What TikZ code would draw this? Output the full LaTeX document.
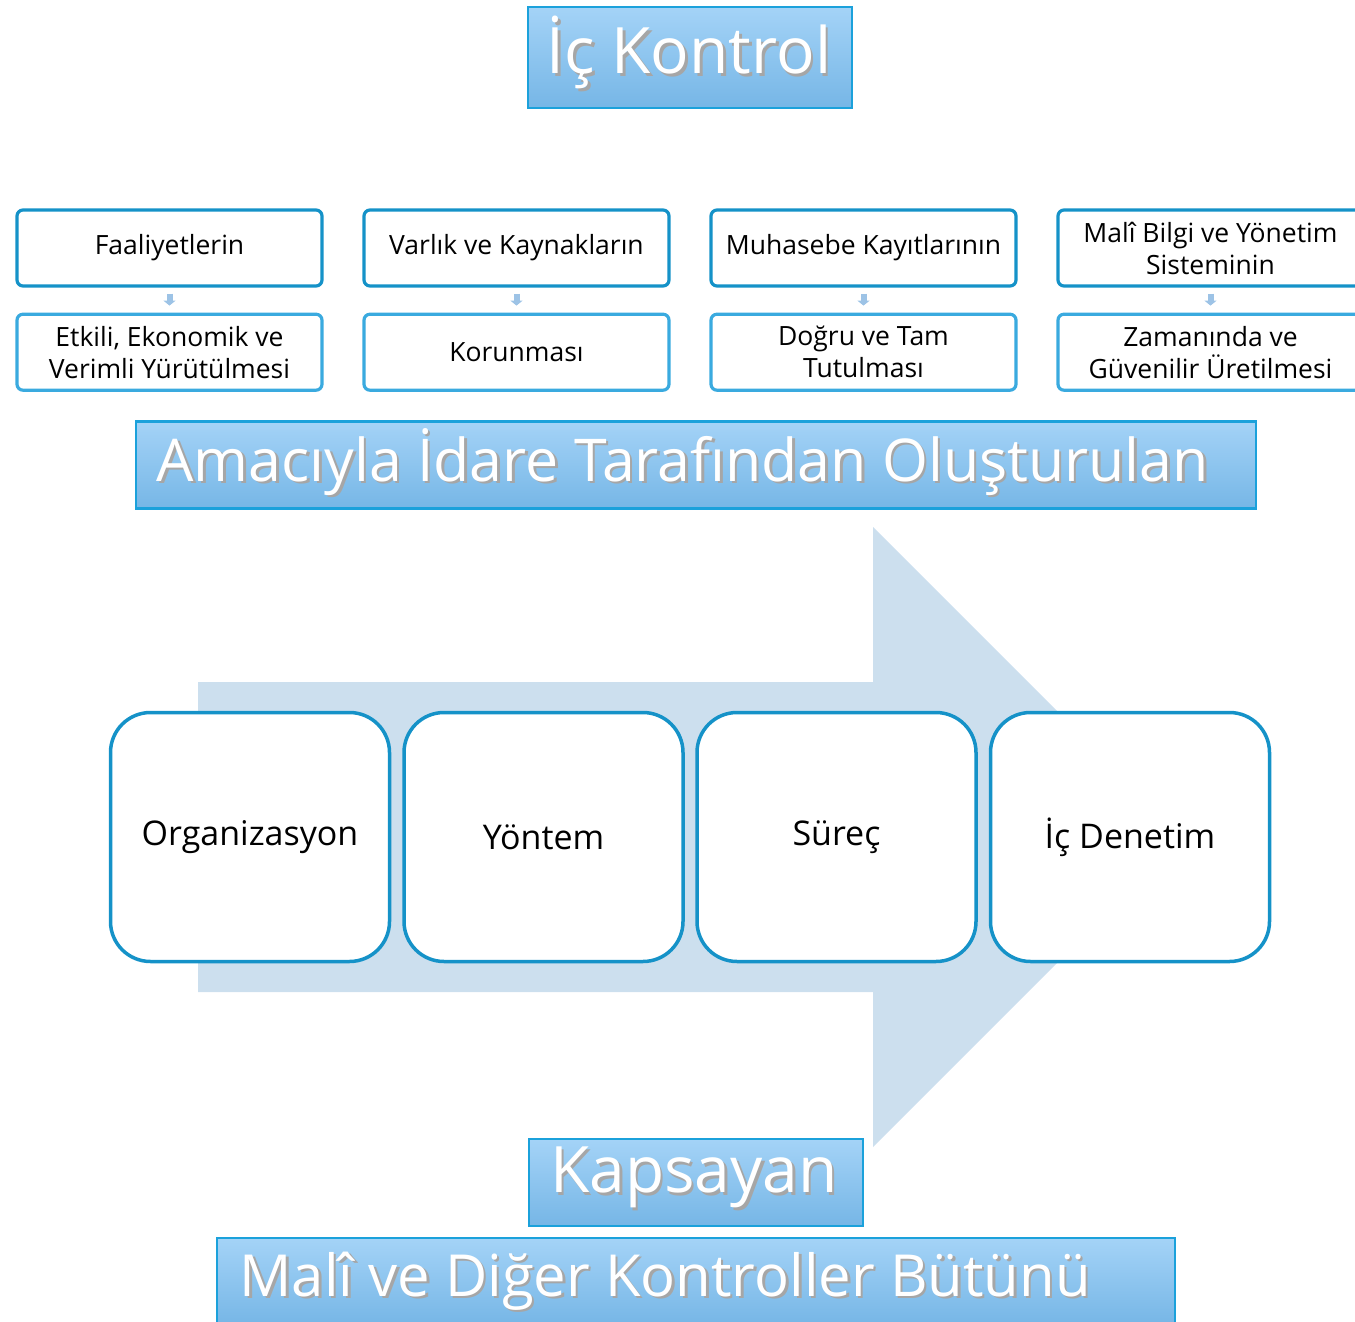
\documentclass[tikz,border=0pt]{standalone}
\usepackage{fontspec}
\setmainfont{Open Sans}
\usetikzlibrary{positioning,arrows.meta}

\definecolor{kenar}{HTML}{1592C8}
\definecolor{acikkenar}{HTML}{3AAADF}
\definecolor{baslikkenar}{HTML}{1BA1DB}
\definecolor{ustmavi}{HTML}{A4D3F7}
\definecolor{altmavi}{HTML}{76B6E6}
\definecolor{oktonu}{HTML}{CCDFEE}
\definecolor{okmavi}{HTML}{9DC3E6}

% beyaz yazi + hafif golge
\newcommand{\golgeli}[1]{\makebox[0pt][l]{\kern2.5pt\raisebox{-2.5pt}{\textcolor{black!35}{#1}}}\textcolor{white}{#1}}

\begin{document}
\begin{tikzpicture}[x=1pt, y=-1pt,
  baslik/.style={draw=baslikkenar, line width=2.5pt, top color=ustmavi, bottom color=altmavi, inner sep=0pt},
  ustkutu/.style={draw=kenar, line width=3.2pt, rounded corners=6pt, fill=white, minimum width=305pt, minimum height=76pt, align=center, inner sep=2pt, font=\fontsize{26.5}{32}\selectfont},
  altkutu/.style={ustkutu, draw=acikkenar},
  kucukok/.style={draw=okmavi, line width=6pt, -{Triangle[width=12pt,length=5pt]}, shorten <=6pt, shorten >=7pt},
  adim/.style={draw=kenar, line width=3.5pt, rounded corners=40pt, fill=white, minimum width=279pt, minimum height=249pt, font=\fontsize{34}{40}\selectfont}
]
  \useasboundingbox (0,0) rectangle (1355,1322);
  \clip (0,0) rectangle (1355,1322);

  % ==========================================
  % BASLIK
  % ==========================================
  \node[baslik, minimum width=324pt, minimum height=101pt] (baslik) at (690,57.5) {};
  \node[font=\fontsize{64}{70}\selectfont] (baslikyazi) at (689,54) {\golgeli{İç Kontrol}};

  % ==========================================
  % AMACLAR (UST SIRA)
  % ==========================================
  \node[ustkutu] (faaliyet) at (169.5,248) {Faaliyetlerin};
  \node[altkutu, below=25pt of faaliyet] (etkili) {Etkili, Ekonomik ve\\Verimli Yürütülmesi};
  \draw[kucukok] (faaliyet) -- (etkili);

  \node[ustkutu] (varlik) at (516.5,248) {Varlık ve Kaynakların};
  \node[altkutu, below=25pt of varlik] (korunma) {Korunması};
  \draw[kucukok] (varlik) -- (korunma);

  \node[ustkutu] (muhasebe) at (863.5,248) {Muhasebe Kayıtlarının};
  \node[altkutu, below=25pt of muhasebe] (dogru) {Doğru ve Tam\\Tutulması};
  \draw[kucukok] (muhasebe) -- (dogru);

  \node[ustkutu] (mali) at (1210.5,248) {Malî Bilgi ve Yönetim\\Sisteminin};
  \node[altkutu, below=25pt of mali] (zamaninda) {Zamanında ve\\Güvenilir Üretilmesi};
  \draw[kucukok] (mali) -- (zamaninda);

  % ==========================================
  % ARA BASLIK
  % ==========================================
  \node[baslik, minimum width=1120pt, minimum height=87pt] (amac) at (696,465) {};
  \node[anchor=west, font=\fontsize{59}{64}\selectfont] (amacyazi) at (153,463) {\golgeli{Amacıyla İdare Tarafından Oluşturulan}};

  % ==========================================
  % BUYUK OK VE BILESENLER
  % ==========================================
  % Ok govdesi ve ucu (ucu son kutunun arkasinda kalir)
  \fill[oktonu] (198,682) -- (873,682) -- (873,527) -- (1183,837)
    -- (873,1147) -- (873,992) -- (198,992) -- cycle;

  \node[adim] (org) at (250,837) {Organizasyon};
  \node[adim] (yontem) at (543.5,837) {Yöntem};
  \node[adim] (surec) at (836.5,837) {Süreç};
  \node[adim] (denetim) at (1130,837) {İç Denetim};

  % ==========================================
  % ALT BASLIKLAR
  % ==========================================
  \node[baslik, minimum width=334pt, minimum height=87pt] (kapsayan) at (696,1182.5) {};
  \node[font=\fontsize{64}{70}\selectfont] (kapsayanyazi) at (694,1179) {\golgeli{Kapsayan}};

  \node[baslik, minimum width=958pt, minimum height=87pt] (butun) at (696,1281.5) {};
  \node[anchor=west, font=\fontsize{58}{62}\selectfont] (butunyazi) at (236,1282) {\golgeli{Malî ve Diğer Kontroller Bütünü}};

\end{tikzpicture}
\end{document}
